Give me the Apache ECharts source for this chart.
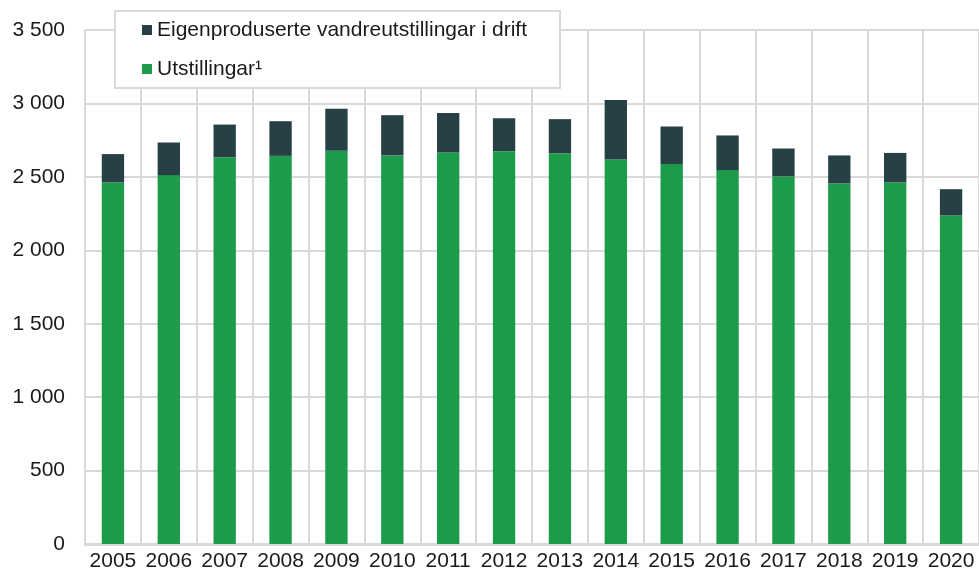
<!DOCTYPE html>
<html>
<head>
<meta charset="utf-8">
<script src="https://cdn.jsdelivr.net/npm/echarts@6/dist/echarts.min.js"></script>
<style>
html,body{margin:0;padding:0;background:#fff;}
#chart{width:979px;height:572px;}
</style>
</head>
<body>
<div id="chart"></div>
<script>
const years = ["2005","2006","2007","2008","2009","2010","2011","2012","2013","2014","2015","2016","2017","2018","2019","2020"];
const utstillingar = [2462, 2512, 2634, 2643, 2677, 2646, 2666, 2675, 2661, 2618, 2587, 2546, 2503, 2455, 2462, 2237];
const vandreutstillingar = [193, 222, 222, 236, 286, 274, 269, 224, 232, 406, 256, 236, 190, 191, 201, 179];
const yTicks = { min: 0, max: 3500, interval: 500 };
const nameVandre = "Eigenproduserte vandreutstillingar i drift";
const nameUtst = "Utstillingar\u00B9";

const chart = echarts.init(document.getElementById('chart'));
const fontFamily = '"Liberation Sans", Arial, sans-serif';
const gridColor = '#d9d9d9';
chart.setOption({
  animation: false,
  textStyle: { fontFamily: fontFamily },
  grid: { left: 85, right: -4, top: 30, bottom: 28, containLabel: false },
  legend: {
    data: [nameVandre, nameUtst],
    orient: 'vertical',
    left: 115, top: 11,
    backgroundColor: '#fff',
    borderColor: gridColor,
    borderWidth: 2,
    padding: [7, 33, 7, 27],
    itemGap: 15,
    itemWidth: 10, itemHeight: 10,
    icon: 'rect',
    textStyle: { fontSize: 21, color: '#1a1a1a', fontFamily: fontFamily, lineHeight: 24, padding: [0,0,0,0] }
  },
  xAxis: {
    type: 'category',
    data: years,
    axisTick: { show: false },
    axisLine: { show: true, lineStyle: { color: gridColor, width: 3 } },
    splitLine: { show: true, interval: 0, lineStyle: { color: gridColor, width: 2 } },
    axisLabel: { fontSize: 21, color: '#1a1a1a', margin: 7, interval: 0 }
  },
  yAxis: {
    type: 'value',
    min: yTicks.min, max: yTicks.max, interval: yTicks.interval,
    axisLine: { show: true, lineStyle: { color: gridColor, width: 2 } },
    axisTick: { show: false },
    splitLine: { show: true, lineStyle: { color: gridColor, width: 2 } },
    axisLabel: {
      fontSize: 21, color: '#1a1a1a', margin: 20,
      formatter: v => String(v).replace(/\B(?=(\d{3})+(?!\d))/g, ' ')
    }
  },
  series: [
    {
      name: nameUtst, type: 'bar', stack: 'total', barWidth: '40%',
      data: utstillingar,
      itemStyle: { color: '#1c9b4a' }
    },
    {
      name: nameVandre, type: 'bar', stack: 'total', barWidth: '40%',
      data: vandreutstillingar,
      itemStyle: { color: '#274046' }
    }
  ]
});
</script>
</body>
</html>
